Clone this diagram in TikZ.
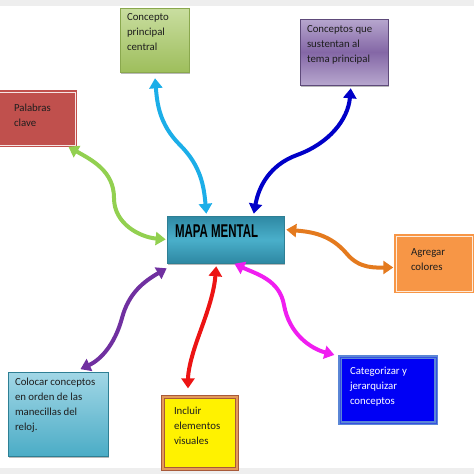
\documentclass[tikz,border=0pt]{standalone}
\usepackage{fontspec}
\usepackage{graphicx}
\setmainfont{Carlito}
\newfontfamily\titulofont{Liberation Sans}
\usetikzlibrary{arrows.meta, shadows}

% colores de las cajas
\definecolor{banda}{HTML}{EEEEEE}
\definecolor{texto}{HTML}{1E1E1E}
\definecolor{verdearriba}{HTML}{C9DEA0}
\definecolor{verdeabajo}{HTML}{9EBE5C}
\definecolor{verdeborde}{HTML}{8AA84E}
\definecolor{moradoclaro}{HTML}{B7A7CE}
\definecolor{moradomedio}{HTML}{8467A6}
\definecolor{moradoborde}{HTML}{5E4A7A}
\definecolor{rojocaja}{HTML}{C0504D}
\definecolor{naranjacaja}{HTML}{F79646}
\definecolor{azulcaja}{HTML}{0000F5}
\definecolor{azulborde}{HTML}{5A86D6}
\definecolor{amarilloborde}{HTML}{A85A3A}
\definecolor{amarillomedio}{HTML}{E49A58}
\definecolor{celestearriba}{HTML}{A2D7E6}
\definecolor{celesteabajo}{HTML}{4BACC6}
\definecolor{celesteborde}{HTML}{2E7F94}
\definecolor{mapaclaro}{HTML}{4AAFCA}
\definecolor{mapaoscuro}{HTML}{2E88A3}
% colores de las flechas
\definecolor{verdeflecha}{HTML}{92D050}
\definecolor{cianflecha}{HTML}{1CAEE8}
\definecolor{azulflecha}{HTML}{0000C8}
\definecolor{naranjaflecha}{HTML}{E47A1E}
\definecolor{magentaflecha}{HTML}{F01EF0}
\definecolor{rojoflecha}{HTML}{EC1414}
\definecolor{moradoflecha}{HTML}{7030A0}

\newcommand{\caja}[3]{\parbox[c][#2][t]{#1}{\raggedright #3}}

\begin{document}
\begin{tikzpicture}[
    x=1pt, y=1pt,
    box/.style={rectangle, inner sep=0pt, font=\fontsize{10.8}{15}\selectfont, text=texto},
    sombra/.style={drop shadow={shadow xshift=1.2pt, shadow yshift=-1.6pt, opacity=0.55}},
    verdebox/.style={box, sombra, top color=verdearriba, bottom color=verdeabajo, draw=verdeborde, line width=0.6pt},
    moradobox/.style={box, sombra, top color=moradoclaro, bottom color=moradoclaro, middle color=moradomedio, draw=moradoborde, line width=0.6pt},
    rojobox/.style={box, fill=rojocaja, draw=rojocaja, double=white!85!rojocaja, double distance=1pt, line width=1.4pt},
    naranjabox/.style={box, fill=naranjacaja, draw=naranjacaja, double=white!80!naranjacaja, double distance=1pt, line width=1.4pt},
    azulbox/.style={box, text=white, fill=azulcaja, draw=azulborde, double=azulborde!60!azulcaja, double distance=0.8pt, line width=1.6pt},
    amarillobox/.style={box, fill=yellow, draw=amarilloborde, double=amarillomedio, double distance=2.2pt, line width=1.2pt},
    celestebox/.style={box, sombra, top color=celestearriba, bottom color=celesteabajo, draw=celesteborde, line width=0.6pt},
    mapabox/.style={box, sombra, text=black, top color=mapaoscuro, bottom color=mapaoscuro, middle color=mapaclaro, draw=celesteborde, line width=0.6pt},
    flecha/.style={{Triangle[width=13pt,length=10pt]}-{Triangle[width=13pt,length=10pt]}, line width=4pt},
]
\useasboundingbox (0,0) rectangle (474,-474);

% bandas grises
\fill[banda] (0,0) rectangle (474,-6);
\fill[banda] (0,-468) rectangle (474,-474);

% tema central
\node[mapabox, inner xsep=8pt, inner ysep=9pt] (mapa) at (225.5,-239.5)
    {\caja{101pt}{29pt}{\titulofont\bfseries\fontsize{18.5}{18.5}\selectfont\scalebox{0.62}[1]{MAPA MENTAL}}};

% cajas alrededor
\node[verdebox, inner xsep=7pt, inner ysep=5pt] (concepto) at (154.5,-40)
    {\caja{55pt}{54pt}{Concepto\\principal\\central}};
\node[moradobox, inner xsep=7pt, inner ysep=6pt] (sustento) at (344,-52)
    {\caja{74pt}{54pt}{Conceptos que\\sustentan al\\tema principal}};
\node[rojobox, inner xsep=15pt, inner ysep=12pt] (palabras) at (37,-118.5)
    {\caja{46pt}{29pt}{Palabras\\clave}};
\node[naranjabox, inner xsep=15pt, inner ysep=13pt] (colores) at (434,-263.5)
    {\caja{46pt}{29pt}{Agregar\\colores}};
\node[azulbox, inner xsep=10pt, inner ysep=10pt] (jerarquia) at (388,-390)
    {\caja{76pt}{46pt}{Categorizar y\\jerarquizar\\conceptos}};
\node[amarillobox, inner xsep=11pt, inner ysep=10pt] (visuales) at (200,-433)
    {\caja{52pt}{52pt}{Incluir\\elementos\\visuales}};
\node[celestebox, inner xsep=7pt, inner ysep=6pt] (reloj) at (58,-414)
    {\caja{86pt}{72pt}{Colocar conceptos\\en orden de las\\manecillas del\\reloj.}};

% flechas onduladas
\draw[flecha, verdeflecha, shorten <=2pt, shorten >=1pt] ([xshift=-9pt]palabras.south east)
    to[out=-30, in=90] (114,-198) to[out=-90, in=175] (mapa.west);
\draw[flecha, cianflecha, shorten <=6pt, shorten >=2pt] (concepto.south)
    to[out=-85, in=135] (180,-145) to[out=-45, in=95] ([xshift=-19pt]mapa.north);
\draw[flecha, azulflecha, shorten <=3pt, shorten >=2pt] ([xshift=7pt]sustento.south)
    to[out=-95, in=20] (297,-155) to[out=200, in=80] ([xshift=28pt]mapa.north);
\draw[flecha, naranjaflecha, shorten <=2pt, shorten >=2pt] ([yshift=10pt]mapa.east)
    to[out=-5, in=130] (347,-254) to[out=-50, in=180] ([yshift=-4pt]colores.west);
\draw[flecha, magentaflecha, shorten <=1pt, shorten >=5pt] ([xshift=8pt]mapa.south)
    to[out=-25, in=100] (284,-305) to[out=-80, in=165] (jerarquia.north west);
\draw[flecha, rojoflecha, shorten <=3pt, shorten >=8pt] ([xshift=-9pt]mapa.south)
    to[out=-95, in=70] (199,-335) to[out=-110, in=90] ([xshift=-12pt]visuales.north);
\draw[flecha, moradoflecha, shorten <=0pt, shorten >=6pt] ([yshift=-5pt]mapa.south west)
    to[out=210, in=75] (122,-318) to[out=-105, in=25] ([xshift=17pt]reloj.north);

\end{tikzpicture}
\end{document}
